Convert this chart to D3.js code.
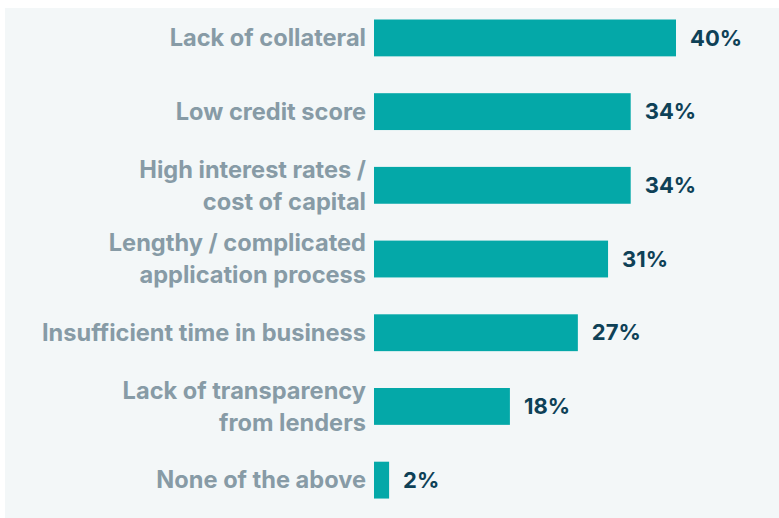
<!DOCTYPE html>
<html>
<head>
<meta charset="utf-8">
<script src="https://cdn.jsdelivr.net/npm/d3@7"></script>
<style>
  html, body { margin: 0; padding: 0; background: #ffffff; }
  svg { display: block; }
</style>
</head>
<body>
<svg id="barriers" width="779" height="518"></svg>
<script>
(() => {

// chart data
const categories = [
    'Lack of collateral',
    'Low credit score',
    'High interest rates / cost of capital',
    'Lengthy / complicated application process',
    'Insufficient time in business',
    'Lack of transparency from lenders',
    'None of the above'
];
const label_lines = [
    ['Lack of collateral'],
    ['Low credit score'],
    ['High interest rates /', 'cost of capital'],
    ['Lengthy / complicated', 'application process'],
    ['Insufficient time in business'],
    ['Lack of transparency', 'from lenders'],
    ['None of the above']
];
const values = [40, 34, 34, 31, 27, 18, 2];

// chart parameters
const bar_left = 374;
const bar_max = 676;
const label_right = 366;
const value_gap = 14;
const line_height = 32;

const bar_color = '#04a8a8';
const label_color = '#879ba6';
const value_color = '#0e4157';
const font = 'Inter, "Noto Sans", sans-serif';

let svg = d3.select('#barriers');

// panel background
svg.append('rect')
    .attr('x', 5)
    .attr('y', 8)
    .attr('width', 774)
    .attr('height', 510)
    .attr('fill', '#f3f7f8');

let x_scale = d3.scaleLinear()
    .domain([0, 40])
    .range([bar_left, bar_max]);

let y_scale = d3.scaleBand()
    .domain(categories)
    .range([19.5, 19.5 + 73.7 * 6.5])
    .paddingInner(0.5)
    .paddingOuter(0);

let rows = svg.append('g')
    .selectAll('g')
    .data(categories.map((c, i) => ({cat: c, lines: label_lines[i], value: values[i]})))
    .enter()
        .append('g');

// bars
rows.append('rect')
    .attr('x', x_scale(0))
    .attr('y', (d) => y_scale(d.cat))
    .attr('width', (d) => x_scale(d.value) - x_scale(0))
    .attr('height', y_scale.bandwidth())
    .attr('fill', bar_color);

// value labels
rows.append('text')
    .attr('x', (d) => x_scale(d.value) + value_gap)
    .attr('y', (d) => y_scale(d.cat) + y_scale.bandwidth() / 2)
    .attr('dy', '0.35em')
    .text((d) => d.value + '%')
    .style('font-family', font)
    .style('font-weight', 700)
    .style('font-size', '22px')
    .style('fill', value_color);

// category labels, one or two lines
rows.append('text')
    .attr('text-anchor', 'end')
    .style('font-family', font)
    .style('font-weight', 700)
    .style('font-size', '23.6px')
    .style('fill', label_color)
    .each(function(d) {
        let mid = y_scale(d.cat) + y_scale.bandwidth() / 2;
        let first = mid - (d.lines.length - 1) * line_height / 2;
        d3.select(this).selectAll('tspan')
            .data(d.lines)
            .enter()
                .append('tspan')
                .attr('x', label_right)
                .attr('y', (l, i) => first + i * line_height)
                .attr('dy', '0.35em')
                .text((l) => l);
    });

})();
</script>
</body>
</html>
